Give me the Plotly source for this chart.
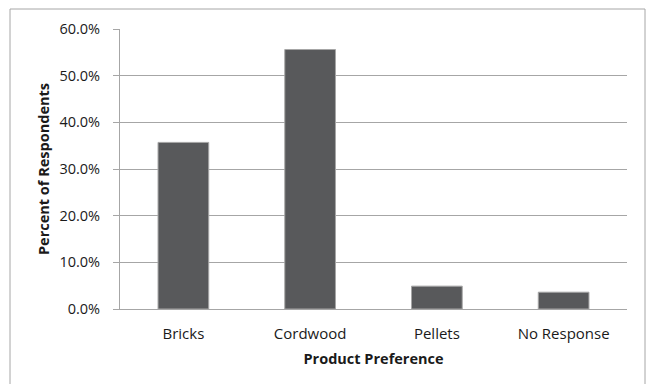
import plotly.graph_objects as go

categories = ["Bricks", "Cordwood", "Pellets", "No Response"]
percent = [0.357, 0.556, 0.049, 0.036]
y_ticks = [0, 0.1, 0.2, 0.3, 0.4, 0.5, 0.6]
y_tick_labels = ["0.0%", "10.0%", "20.0%", "30.0%", "40.0%", "50.0%", "60.0%"]

W, H = 647, 384
L, R, T, B = 120, 20, 29, 75
pw, ph = W - L - R, H - T - B

def px_x(p):
    return (p - L) / pw

def px_y(p):
    return (H - B - p) / ph

font = "Open Sans"
fig = go.Figure(go.Bar(
    x=categories, y=percent,
    marker=dict(color="#58595b", line=dict(color="#a6a6a6", width=1)),
    width=0.4,
))
fig.update_layout(
    width=W, height=H,
    margin=dict(l=L, r=R, t=T, b=B),
    paper_bgcolor="white", plot_bgcolor="white",
    showlegend=False,
    font=dict(family=font, size=13, color="#1a1a1a"),
    xaxis=dict(
        title=dict(text="<b>Product Preference</b>", font=dict(size=14.5), standoff=11),
        showgrid=False, showline=True, linecolor="#a6a6a6", linewidth=1,
        ticks="", tickfont=dict(size=15), ticklabelstandoff=11,
    ),
    yaxis=dict(
        title=dict(text="<b>Percent of Respondents</b>", font=dict(size=14.5), standoff=6),
        range=[0, 0.6], tickvals=y_ticks, ticktext=y_tick_labels,
        showgrid=True, gridcolor="#a6a6a6", gridwidth=1,
        showline=True, linecolor="#a6a6a6", linewidth=1,
        ticks="outside", ticklen=6, tickcolor="#a6a6a6",
        tickfont=dict(size=14.5), ticklabelstandoff=10, zeroline=False,
    ),
    shapes=[dict(
        type="rect", xref="paper", yref="paper",
        x0=px_x(10), x1=px_x(645), y0=px_y(388), y1=px_y(9),
        line=dict(color="#a6a6a6", width=1), fillcolor="rgba(0,0,0,0)", layer="below",
    )],
)
fig.write_html("out.html")
